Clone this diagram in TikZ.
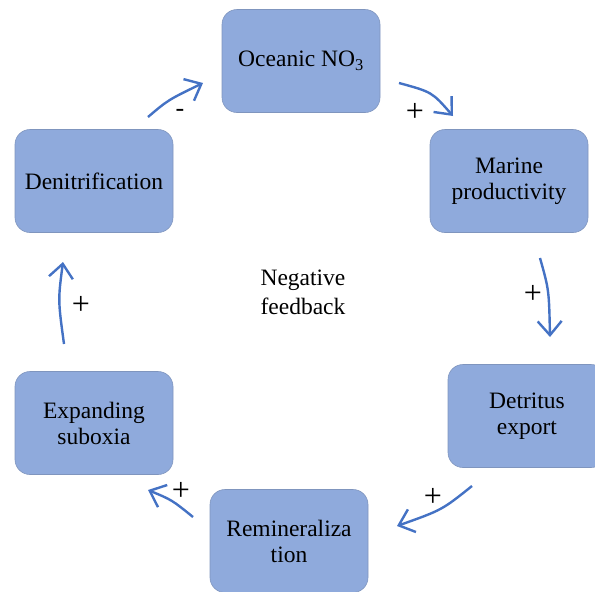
\documentclass[tikz,border=0pt]{standalone}
\usepackage{fontspec}
\setmainfont{Liberation Serif}
\usepackage{tikz}
\usetikzlibrary{shapes,arrows,arrows.meta}
\usetikzlibrary{positioning}

\definecolor{boxfill}{HTML}{8FAADC}
\definecolor{boxline}{HTML}{7F95BE}
\definecolor{loopblue}{HTML}{4472C4}

\tikzset{
    stage/.style={draw=boxline, line width=.6pt, fill=boxfill, rounded corners=15pt,
        minimum width=158pt, minimum height=103pt, align=center,
        font=\fontsize{23.5}{26}\selectfont},
    link/.style={loopblue, line width=2.4pt,
        -{Straight Barb[length=14pt,width=24pt,line width=2.4pt]}},
    sign/.style={font=\fontsize{32}{34}\selectfont}
}

\begin{document}
\begin{tikzpicture}[x=1pt,y=-1pt]
    \useasboundingbox (0,0) rectangle (595,592);
    % the six stages of the loop
    \node[stage] (ocean) at (301,61) {Oceanic NO\textsubscript{3}};
    \node[stage] (marine) at (509,181) {Marine\\productivity};
    \node[stage] (detritus) at (527,416) {Detritus\\export};
    \node[stage] (remin) at (289,541) {Remineraliza\\tion};
    \node[stage] (suboxia) at (94,423) {Expanding\\suboxia};
    \node[stage] (denit) at (94,181) {Denitrification};
    \node[align=center, font=\fontsize{23.5}{29}\selectfont] (centre) at (303,292) {Negative\\feedback};

    % arrow ends
    \coordinate (d1) at (148,117); \coordinate (o0) at (203,83);
    \coordinate (o1) at (399,83);  \coordinate (m0) at (453,116);
    \coordinate (m1) at (540,258); \coordinate (t0) at (550,337);
    \coordinate (t1) at (472,486); \coordinate (r0) at (397,526);
    \coordinate (r1) at (193,517); \coordinate (s0) at (148,490);
    \coordinate (s1) at (64,344);  \coordinate (n0) at (63,262);

    \draw[link] (d1) .. controls (168,100) .. (o0);
    \draw[link] (o1) .. controls (432,92) .. (m0);
    \draw[link] (m1) .. controls (549,290) .. (t0);
    \draw[link] (t1) .. controls (442,510) .. (r0);
    \draw[link] (r1) .. controls (172,500) .. (s0);
    \draw[link] (s1) .. controls (58,300) .. (n0);

    \node[sign, font=\fontsize{26}{28}\selectfont] (minus) at (180,113) {-};
    \node[sign] (p1) at (415,112) {+};
    \node[sign] (p2) at (533,294) {+};
    \node[sign] (p3) at (433,497) {+};
    \node[sign] (p4) at (181,491) {+};
    \node[sign] (p5) at (81,305) {+};
\end{tikzpicture}
\end{document}
